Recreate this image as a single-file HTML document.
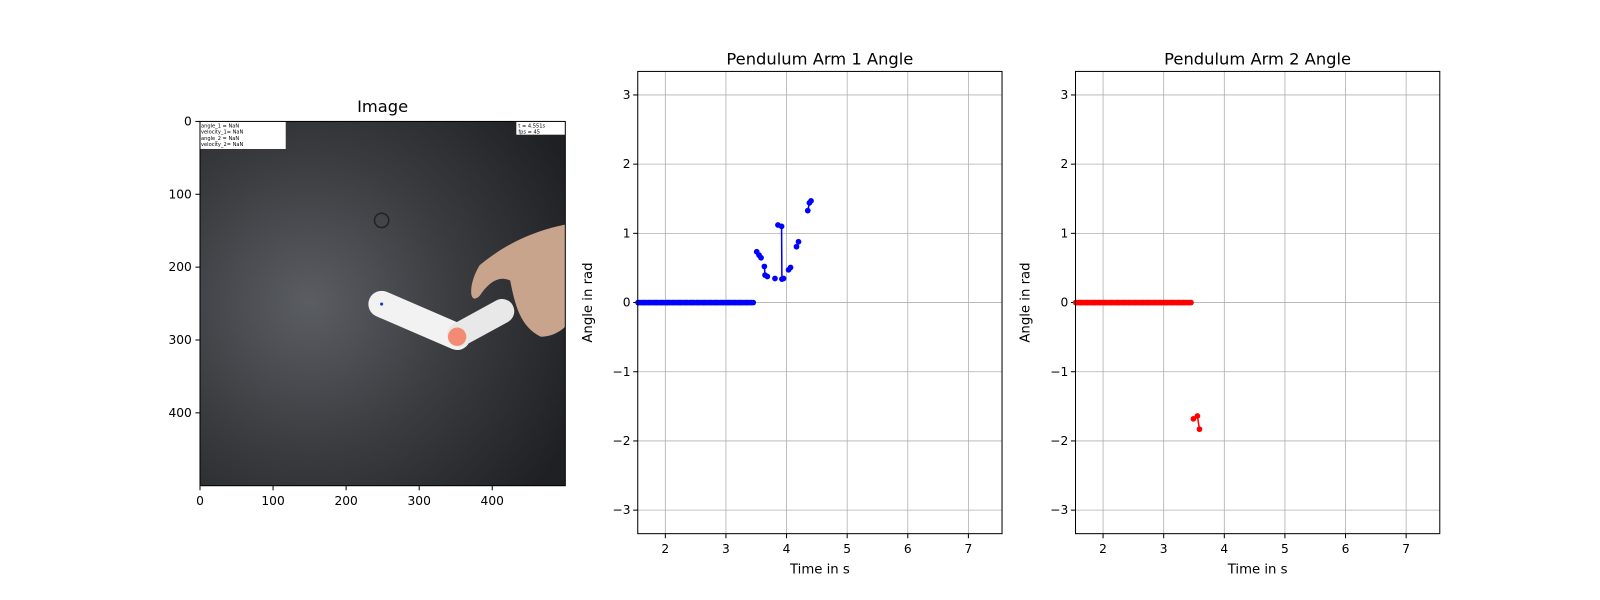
<!DOCTYPE html>
<html><head><meta charset="utf-8"><style>
body{margin:0;background:#fff;}
svg{display:block;font-family:"DejaVu Sans","Liberation Sans",sans-serif;}
</style></head><body>
<svg id="fig" width="1600" height="600" viewBox="0 0 1600 600">
<defs>
<radialGradient id="bg" cx="0.3" cy="0.5" r="0.8">
<stop offset="0" stop-color="#5a5d62"/><stop offset="0.5" stop-color="#3a3c40"/><stop offset="1" stop-color="#1f2023"/>
</radialGradient>
</defs>
<g transform="scale(1.0204)">
<g>
<text x="375" y="110" text-anchor="middle" font-size="16">Image</text>
<rect x="196" y="119" width="358" height="357" fill="url(#bg)"/>
<rect x="196" y="119" width="84" height="27" fill="#fff"/>
<text x="197" y="125" font-size="5">angle_1   =  NaN</text>
<text x="197" y="131" font-size="5">velocity_1=  NaN</text>
<text x="197" y="137" font-size="5">angle_2   =  NaN</text>
<text x="197" y="143" font-size="5">velocity_2=  NaN</text>
<rect x="506" y="119" width="48" height="13" fill="#fff"/>
<text x="508" y="125" font-size="5">t  = 4.551s</text>
<text x="508" y="131" font-size="5">fps  = 45</text>
<circle cx="374" cy="216" r="7" fill="none" stroke="#222" stroke-width="1.5"/>
<line x1="374" y1="298" x2="448" y2="330" stroke="#f2f2f2" stroke-width="26" stroke-linecap="round"/>
<line x1="450" y1="328" x2="492" y2="305" stroke="#e8e8e8" stroke-width="24" stroke-linecap="round"/>
<circle cx="448" cy="330" r="9" fill="#f28a74"/>
<circle cx="374" cy="298" r="1.5" fill="#2233cc"/>
<path d="M554 220 C530 225 500 235 470 260 C458 280 460 300 470 290 C480 275 490 270 500 275 C505 300 510 320 530 330 C545 330 554 320 554 320 Z" fill="#c9a48c"/>
<rect x="196" y="119" width="358" height="357" fill="none" stroke="#000" stroke-width="1"/>
<g id="imgticks"></g>
</g>
<g id="chart1"></g>
<g id="chart2"></g>
</g>
</svg>
<script>
const NS="http://www.w3.org/2000/svg";
function mk(p,tag,attrs){const e=document.createElementNS(NS,tag);for(const k in attrs)e.setAttribute(k,attrs[k]);p.appendChild(e);return e;}
const imgTicks=[0,100,200,300,400];
const it=document.getElementById('imgticks');
imgTicks.forEach(v=>{
 const px=196+v*358/500, py=119+v*357/500;
 const a=mk(it,'line',{x1:px,y1:476,x2:px,y2:480.5,stroke:'#000'});
 
 
 const t=mk(it,'text',{x:px,y:495,'text-anchor':'middle','font-size':12});t.textContent=v;
 
 
 const b=mk(it,'line',{x1:191.5,y1:py,x2:196,y2:py,stroke:'#000'});
 
 
 const u=mk(it,'text',{x:188,y:py+4,'text-anchor':'end','font-size':12});u.textContent=v;
 
 
});

const xTicks=[2,3,4,5,6,7];
const yTicks=[-3,-2,-1,0,1,2,3];
const zeroTimes=[1.55,1.57,1.6,1.62,1.64,1.66,1.68,1.71,1.73,1.75,1.77,1.8,1.82,1.84,1.86,1.88,1.91,1.93,1.95,1.97,2.0,2.02,2.04,2.06,2.08,2.11,2.13,2.15,2.17,2.2,2.22,2.24,2.26,2.28,2.31,2.33,2.35,2.37,2.4,2.42,2.44,2.46,2.48,2.51,2.53,2.55,2.57,2.6,2.62,2.64,2.66,2.68,2.71,2.73,2.75,2.77,2.8,2.82,2.84,2.86,2.88,2.91,2.93,2.95,2.97,3.0,3.02,3.04,3.06,3.08,3.11,3.13,3.15,3.17,3.2,3.22,3.24,3.26,3.28,3.31,3.33,3.35,3.37,3.4,3.42,3.45];
const arm1Times=[3.508,3.546,3.579,null,3.634,3.645,3.683,null,3.809,null,3.858,3.918,3.923,3.951,null,4.033,4.066,null,4.164,4.197,null,4.35,4.377,4.404];
const arm1Values=[0.734,0.686,0.647,null,0.522,0.396,0.377,null,0.348,null,1.121,1.101,0.338,0.348,null,0.473,0.507,null,0.807,0.879,null,1.329,1.44,1.469];
const arm2Times=[3.49,3.556,3.59];
const arm2Values=[-1.68,-1.64,-1.83];

function chart(id,L,title,color,times,vals,nm){
 const g=document.getElementById(id);
 
 
 const T=70,W=357,H=453,xmin=1.545,xmax=7.555,ymin=-3.34,ymax=3.34;
 const X=t=>L+(t-xmin)/(xmax-xmin)*W, Y=v=>T+(ymax-v)/(ymax-ymin)*H;
 xTicks.forEach(v=>{
  const l=mk(g,'line',{x1:X(v),y1:T,x2:X(v),y2:T+H,stroke:'#b0b0b0','stroke-width':0.8});
  
  
  mk(g,'line',{x1:X(v),y1:T+H,x2:X(v),y2:T+H+4.5,stroke:'#000'});
  const t=mk(g,'text',{x:X(v),y:T+H+19,'text-anchor':'middle','font-size':12});t.textContent=v;
  
  
 });
 yTicks.forEach(v=>{
  const l=mk(g,'line',{x1:L,y1:Y(v),x2:L+W,y2:Y(v),stroke:'#b0b0b0','stroke-width':0.8});
  
  
  mk(g,'line',{x1:L-4.5,y1:Y(v),x2:L,y2:Y(v),stroke:'#000'});
  const t=mk(g,'text',{x:L-7,y:Y(v)+4,'text-anchor':'end','font-size':12});t.textContent=(v<0?'\u2212'+(-v):v);
  
  
 });
 const tt=mk(g,'text',{x:L+W/2,y:T-7,'text-anchor':'middle','font-size':16});tt.textContent=title;
 
 
 const xl=mk(g,'text',{x:L+W/2,y:T+H+39,'text-anchor':'middle','font-size':13});xl.textContent='Time in s';
 
 
 const yl=mk(g,'text',{x:0,y:0,'text-anchor':'middle','font-size':13,transform:`translate(${L-45},${T+H/2}) rotate(-90)`});yl.textContent='Angle in rad';
 
 
 const zl=mk(g,'line',{x1:X(zeroTimes[0]),y1:Y(0),x2:X(zeroTimes[zeroTimes.length-1]),y2:Y(0),stroke:color,'stroke-width':1.5});
 
 
 zeroTimes.forEach(t=>{const c=mk(g,'circle',{cx:X(t),cy:Y(0),r:2.8,fill:color});
  
  });
 let d='',pen=false;
 times.forEach((t,i)=>{if(t===null){pen=false;return;}d+=(pen?'L':'M')+X(t)+' '+Y(vals[i])+' ';pen=true;});
 const p=mk(g,'path',{d:d,fill:'none',stroke:color,'stroke-width':1.5});
 
 
 times.forEach((t,i)=>{if(t===null)return;const c=mk(g,'circle',{cx:X(t),cy:Y(vals[i]),r:2.8,fill:color});
  
  });
 mk(g,'rect',{x:L,y:T,width:W,height:H,fill:'none',stroke:'#000','stroke-width':1});
}
chart('chart1',625,'Pendulum Arm 1 Angle','#0000ff',arm1Times,arm1Values,'arm1-angle-chart');
chart('chart2',1054,'Pendulum Arm 2 Angle','#ff0000',arm2Times,arm2Values,'arm2-angle-chart');
</script>
</body></html>
